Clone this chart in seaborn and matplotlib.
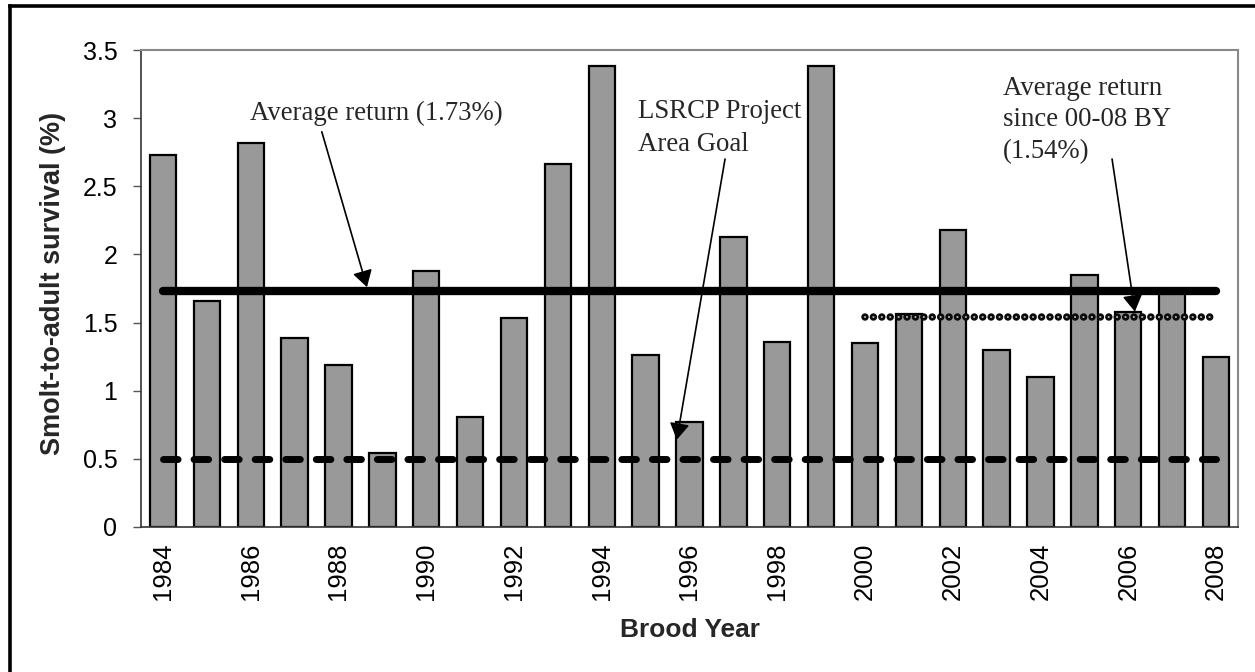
import matplotlib
matplotlib.use("Agg")
import matplotlib.pyplot as plt
from matplotlib.lines import Line2D
import seaborn as sns
import pandas as pd

# Smolt-to-adult survival by brood year
years = list(range(1984, 2009))
survival = [2.73, 1.66, 2.82, 1.39, 1.19, 0.54, 1.88, 0.81, 1.53, 2.66,
            3.38, 1.26, 0.77, 2.13, 1.36, 3.38, 1.35, 1.56, 2.18, 1.30,
            1.10, 1.85, 1.58, 1.74, 1.25]
year_labels = [str(y) for y in years]

avg_all = 1.73        # average return, all brood years
avg_recent = 1.54     # average return, 2000-2008 brood years
goal = 0.5            # LSRCP project area goal
recent_start = 2000

sns.set_style("white")
plt.rcParams["font.family"] = ["Liberation Sans", "DejaVu Sans"]

df = pd.DataFrame({"year": year_labels, "survival": survival})

fig = plt.figure(figsize=(12.55, 6.72), dpi=100)
ax = fig.add_axes([141 / 1255, 1 - 527 / 672, 1097 / 1255, 477 / 672])

sns.barplot(data=df, x="year", y="survival", order=year_labels,
            color="#999999", saturation=1, edgecolor="black",
            linewidth=1.6, width=0.6, ax=ax, zorder=2)

first = 0
last = len(years) - 1
i_recent = years.index(recent_start)

# Reference lines
ax.plot([first, last], [avg_all, avg_all], color="black", lw=6,
        solid_capstyle="round", zorder=4)
ax.plot([first, last], [goal, goal], color="black", lw=5,
        linestyle=(0, (2.1, 2.3)), dash_capstyle="round", zorder=4)
# chain of small rings for the recent-years average
ax.plot([i_recent, last], [avg_recent, avg_recent], color="#0a0a0a", lw=5.4,
        linestyle=(0, (0.001, 1.12)), dash_capstyle="round", zorder=4)
ax.plot([i_recent, last], [avg_recent, avg_recent], color="#b0b0b0", lw=1.6,
        linestyle=(0, (0.001, 3.78)), dash_capstyle="round", zorder=5)

# Axes ranges and ticks
ax.set_xlim(-0.5, len(years) - 0.5)
ax.set_ylim(0, 3.5)
ax.set_yticks([0, 0.5, 1, 1.5, 2, 2.5, 3, 3.5])
ax.set_yticklabels(["0", "0.5", "1", "1.5", "2", "2.5", "3", "3.5"])
ax.set_xticks(range(0, len(years), 2))
ax.set_xticklabels(year_labels[::2], rotation=90)
ax.set_xticks([i - 0.5 for i in range(len(years) + 1)], minor=True)

ax.tick_params(axis="x", which="major", length=0, pad=11, labelsize=18.5,
               colors="black")
ax.tick_params(axis="x", which="minor", direction="inout", length=11,
               width=1, color="#555555")
ax.tick_params(axis="y", which="major", direction="out", length=6,
               width=1, color="#555555", pad=11, labelsize=18,
               labelcolor="black", left=True)

for side in ["top", "right"]:
    ax.spines[side].set_color("#888888")
    ax.spines[side].set_linewidth(1.5)
for side in ["left", "bottom"]:
    ax.spines[side].set_color("#333333")
    ax.spines[side].set_linewidth(1.2)

ax.set_xlabel("Brood Year", fontsize=19, fontweight="bold")
ax.xaxis.label.set_va("baseline")
ax.xaxis.set_label_coords(0.5, -0.2306)
ax.set_ylabel("Smolt-to-adult survival (%)", fontsize=19.5, fontweight="bold")
ax.yaxis.label.set_va("center")
ax.yaxis.set_label_coords(-0.080, 0.51)

# Annotations
serif = ["Liberation Serif", "DejaVu Serif"]
ax.text(1.98, 2.985, "Average return (1.73%)", family=serif, fontsize=19.3,
        ha="left", va="baseline")
ax.text(10.83, 2.757, "LSRCP Project\nArea Goal", family=serif,
        fontsize=19.3, ha="left", va="baseline", linespacing=1.41)
ax.text(19.14, 2.706, "Average return\nsince 00-08 BY\n(1.54%)", family=serif,
        fontsize=19.3, ha="left", va="baseline", linespacing=1.36)

arrow = dict(arrowstyle="-|>,head_length=0.5,head_width=0.3",
             color="black", lw=1.2, shrinkA=0, shrinkB=0, mutation_scale=20)
ax.annotate("", xy=(4.65, 1.76), xytext=(3.62, 2.90), arrowprops=arrow,
            zorder=6)
ax.annotate("", xy=(11.71, 0.64), xytext=(12.81, 2.70), arrowprops=arrow,
            zorder=6)
ax.annotate("", xy=(22.15, 1.58), xytext=(21.63, 2.70), arrowprops=arrow,
            zorder=6)

# Outer frame around the figure
fig.add_artist(Line2D([9.5 / 1255, 9.5 / 1255], [-0.1, 1 - 6 / 672],
                      transform=fig.transFigure, color="black", lw=2.6,
                      solid_capstyle="projecting"))
fig.add_artist(Line2D([9.5 / 1255, 1.1], [1 - 6 / 672, 1 - 6 / 672],
                      transform=fig.transFigure, color="black", lw=2.6,
                      solid_capstyle="projecting"))

fig.savefig("out.png", dpi=100, facecolor="white")
